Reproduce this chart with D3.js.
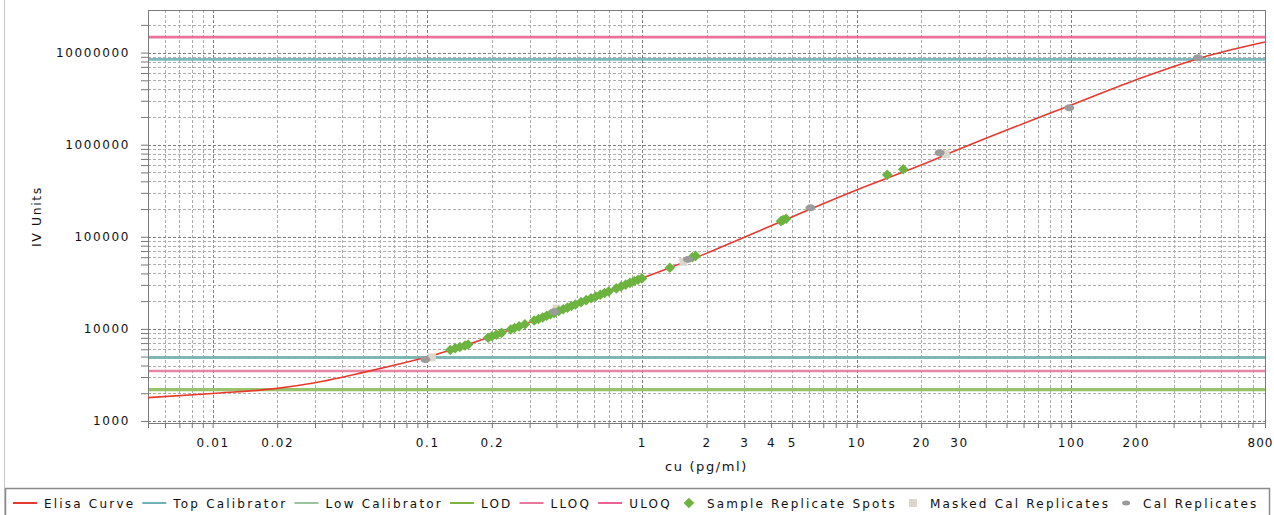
<!DOCTYPE html>
<html>
<head>
<meta charset="utf-8">
<script src="https://cdn.jsdelivr.net/npm/d3@7"></script>
<style>
body { margin: 0; background: #fff; }
text { font-family: "DejaVu Sans", sans-serif; fill: #111; letter-spacing: 1.6px; }
</style>
</head>
<body>
<div id="chart"></div>
<script>
// Elisa standard curve, log-log

// curve
var curveX = [0.005, 0.01, 0.02, 0.03, 0.05, 0.07, 0.1, 0.2, 0.5, 1, 2, 3, 5, 10, 20, 30, 100, 200, 400, 800];
var curveY = [1790, 1990, 2260, 2600, 3350, 4030, 4950, 8300, 18900, 35300, 66000, 99000, 164000, 322000,
              600000, 890000, 2700000, 5050000, 8750000, 13000000];

// sample replicate spots
var sampleX = [0.128, 0.135, 0.142, 0.150, 0.155,
               0.192, 0.200, 0.210, 0.222,
               0.245, 0.255, 0.268, 0.285,
               0.315, 0.33, 0.345, 0.36, 0.375, 0.39, 0.41, 0.43, 0.45, 0.47, 0.49,
               0.52, 0.55, 0.58, 0.61, 0.64, 0.67, 0.70,
               0.76, 0.80, 0.84, 0.88, 0.92, 0.96, 1.0,
               1.35, 1.72, 1.78,
               4.45, 4.55, 4.7,
               13.9, 16.5];
var sampleY = [5900, 6150, 6350, 6600, 6750,
               8000, 8300, 8650, 9050,
               9850, 10200, 10650, 11200,
               12300, 12800, 13300, 13900, 14400, 14900, 15600, 16300, 17000, 17700, 18400,
               19500, 20500, 21500, 22500, 23500, 24500, 25500,
               27500, 28900, 30200, 31600, 32900, 34200, 35300,
               46000, 60000, 62000,
               148000, 152000, 157000,
               470000, 540000];

// calibrators
var calX = [0.098, 0.39, 1.64, 6.1, 24.4, 98, 390];
var calY = [4640, 15300, 56800, 206000, 818000, 2520000, 8800000];
var maskedX = [0.105, 0.40, 1.56, 26];
var maskedY = [4900, 16600, 53500, 790000];

// horizontal limits
var limitNames = ["ULOQ", "Top Calibrator", "Low Calibrator", "LLOQ", "LOD"];
var limitValues = [14700000, 8430000, 4890, 3490, 2190];
var limitColors = ["#e9638f", "#6fb2b6", "#73b3b0", "#e6799c", "#8dbd5a"];
var limitWidths = [2.6, 2.6, 3, 2.6, 3.2];

var xTickLabels = [0.01, 0.02, 0.1, 0.2, 1, 2, 3, 4, 5, 10, 20, 30, 100, 200, 800];
var yTickLabels = [1000, 10000, 100000, 1000000, 10000000];

var legendItems = [
    ["line", "Elisa Curve", "#e8392f"],
    ["line", "Top Calibrator", "#6fb2b6"],
    ["line", "Low Calibrator", "#9cc49c"],
    ["line", "LOD", "#7cb342"],
    ["line", "LLOQ", "#e6799c"],
    ["line", "ULOQ", "#e9638f"],
    ["diamond", "Sample Replicate Spots", "#6db33f"],
    ["square", "Masked Cal Replicates", "#ddd6cc"],
    ["oval", "Cal Replicates", "#9b9b9b"]
];

var WIDTH = 1274;
var HEIGHT = 515;

var LEFT = 148;
var RIGHT = 1265;
var TOP = 10;
var BOTTOM = 423;

var svg = d3.select("#chart").append("svg")
    .attr("width", WIDTH)
    .attr("height", HEIGHT);

var x = d3.scaleLog().domain([0.005, 800]).range([LEFT, RIGHT]);
var y = d3.scaleLog().domain([950, 29000000]).range([BOTTOM, TOP]);

// outer frame
svg.append("rect")
    .attr("x", 4.5).attr("y", -5)
    .attr("width", WIDTH + 10).attr("height", HEIGHT + 10)
    .attr("fill", "none").attr("stroke", "#c8c8c8");

svg.append("rect")
    .attr("x", LEFT).attr("y", TOP)
    .attr("width", RIGHT - LEFT).attr("height", BOTTOM - TOP)
    .attr("fill", "#fff");

function isDecade(v) {
    var l = Math.log10(v);
    return Math.abs(l - Math.round(l)) < 1e-6;
}

// grid
var grid = svg.append("g");

grid.selectAll(".vgrid")
    .data(x.ticks())
    .enter().append("line")
    .attr("x1", function(d) { return Math.round(x(d)) + 0.5; })
    .attr("x2", function(d) { return Math.round(x(d)) + 0.5; })
    .attr("y1", TOP).attr("y2", BOTTOM)
    .attr("stroke", function(d) { return isDecade(d) ? "#7e7e7e" : "#acacac"; })
    .attr("stroke-dasharray", "3,2");

grid.selectAll(".hgrid")
    .data(y.ticks())
    .enter().append("line")
    .attr("y1", function(d) { return Math.round(y(d)) + 0.5; })
    .attr("y2", function(d) { return Math.round(y(d)) + 0.5; })
    .attr("x1", LEFT).attr("x2", RIGHT)
    .attr("stroke", function(d) { return isDecade(d) ? "#7e7e7e" : "#acacac"; })
    .attr("stroke-dasharray", "3,2");

// axes
var xAxis = d3.axisBottom(x)
    .tickValues(x.ticks())
    .tickSize(5)
    .tickFormat(function(d) { return xTickLabels.indexOf(+d.toPrecision(6)) >= 0 ? d3.format("~g")(d) : ""; });

var gx = svg.append("g")
    .attr("transform", "translate(0," + BOTTOM + ")")
    .call(xAxis);
gx.select(".domain").remove();
gx.selectAll("line").attr("stroke", "#777");
gx.selectAll("text").attr("font-size", 12).attr("dy", "1.3em").attr("fill", "#111");
// last label sits at the right edge of the window
gx.selectAll("text")
    .filter(function(d) { return d == 800; })
    .attr("text-anchor", "end")
    .attr("x", 8)
    .style("letter-spacing", "1px");

var yAxis = d3.axisLeft(y)
    .tickValues(y.ticks())
    .tickSize(7)
    .tickPadding(11)
    .tickFormat(function(d) { return yTickLabels.indexOf(+d.toPrecision(6)) >= 0 ? d3.format("d")(d) : ""; });

var gy = svg.append("g")
    .attr("transform", "translate(" + LEFT + ",0)")
    .call(yAxis);
gy.select(".domain").remove();
gy.selectAll("line").attr("stroke", "#777");
gy.selectAll("text").attr("font-size", 12).attr("fill", "#111");

svg.append("rect")
    .attr("x", LEFT + 0.5).attr("y", TOP + 0.5)
    .attr("width", RIGHT - LEFT).attr("height", BOTTOM - TOP)
    .attr("fill", "none").attr("stroke", "#7a7a7a");

svg.append("text")
    .attr("x", (LEFT + RIGHT) / 2)
    .attr("y", 471)
    .attr("text-anchor", "middle")
    .attr("font-size", 13)
    .text("cu (pg/ml)");

svg.append("text")
    .attr("transform", "translate(41," + (TOP + BOTTOM) / 2 + ") rotate(-90)")
    .attr("text-anchor", "middle")
    .attr("font-size", 12.5)
    .text("IV Units");

// limit lines
svg.selectAll(".limit")
    .data(limitValues)
    .enter().append("line")
    .attr("x1", LEFT + 1).attr("x2", RIGHT)
    .attr("y1", function(d) { return y(d); })
    .attr("y2", function(d) { return y(d); })
    .attr("stroke", function(d, i) { return limitColors[i]; })
    .attr("stroke-width", function(d, i) { return limitWidths[i]; })
    .attr("opacity", 0.9);

// elisa curve
var line = d3.line()
    .x(function(d) { return x(d[0]); })
    .y(function(d) { return y(d[1]); })
    .curve(d3.curveMonotoneX);

svg.append("path")
    .datum(d3.zip(curveX, curveY))
    .attr("d", line)
    .attr("fill", "none")
    .attr("stroke", "#e8392f")
    .attr("stroke-width", 1.6);

// points
svg.selectAll(".masked")
    .data(d3.zip(maskedX, maskedY))
    .enter().append("rect")
    .attr("x", function(d) { return x(d[0]) - 4; })
    .attr("y", function(d) { return y(d[1]) - 4; })
    .attr("width", 8).attr("height", 8)
    .attr("fill", "#ddd6cc");

var diamond = d3.symbol().type(d3.symbolSquare).size(56);

svg.selectAll(".sample")
    .data(d3.zip(sampleX, sampleY))
    .enter().append("path")
    .attr("d", diamond)
    .attr("transform", function(d) {
        return "translate(" + x(d[0]) + "," + y(d[1]) + ") rotate(45)";
    })
    .attr("fill", "#6db33f");

svg.selectAll(".cal")
    .data(d3.zip(calX, calY))
    .enter().append("ellipse")
    .attr("cx", function(d) { return x(d[0]); })
    .attr("cy", function(d) { return y(d[1]); })
    .attr("rx", 5).attr("ry", 3.5)
    .attr("fill", "#9b9b9b");

// legend
svg.append("rect")
    .attr("x", 5.5).attr("y", 488.5)
    .attr("width", 1264).attr("height", 40)
    .attr("fill", "#fff")
    .attr("stroke", "#8a8a8a")
    .attr("stroke-width", 1.5);

var lx = 13;
var LY = 503;
legendItems.forEach(function(item) {
    var g = svg.append("g");
    var textStart;
    if (item[0] == "line") {
        g.append("line")
            .attr("x1", lx).attr("x2", lx + 24)
            .attr("y1", LY).attr("y2", LY)
            .attr("stroke", item[2]).attr("stroke-width", 2);
        textStart = lx + 31;
    } else if (item[0] == "diamond") {
        g.append("path")
            .attr("d", diamond)
            .attr("transform", "translate(" + (lx + 10) + "," + LY + ") rotate(45)")
            .attr("fill", item[2]);
        textStart = lx + 28;
    } else if (item[0] == "square") {
        g.append("rect")
            .attr("x", lx + 5).attr("y", LY - 4)
            .attr("width", 8).attr("height", 8)
            .attr("fill", item[2]);
        textStart = lx + 26;
    } else {
        g.append("ellipse")
            .attr("cx", lx + 9).attr("cy", LY)
            .attr("rx", 4).attr("ry", 2.5)
            .attr("fill", item[2]);
        textStart = lx + 26;
    }
    var t = g.append("text")
        .attr("x", textStart)
        .attr("y", LY + 4.5)
        .attr("font-size", 12)
        .style("letter-spacing", "2.2px")
        .text(item[1]);
    lx = textStart + t.node().getComputedTextLength() + 7;
});
</script>
</body>
</html>
